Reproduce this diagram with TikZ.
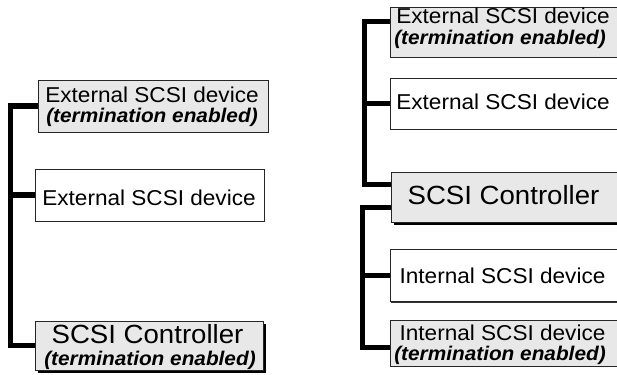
\documentclass[tikz,border=0pt]{standalone}
\usepackage{fontspec}
\setmainfont[FakeStretch=1.05]{Liberation Sans}
\usetikzlibrary{shadows}
\definecolor{boxgrey}{RGB}{232,232,232}
\begin{document}
\begin{tikzpicture}[x=1pt,y=-1pt,
  box/.style={draw=black!85, line width=0.9pt, inner sep=0pt, rectangle},
  greybox/.style={box, fill=boxgrey},
  whitebox/.style={box, fill=white},
  smallshadow/.style={general shadow={fill=black!80, shadow xshift=1.3pt, shadow yshift=-1.3pt}},
  bigshadow/.style={general shadow={fill=black, shadow xshift=3pt, shadow yshift=-3pt}},
  reg/.style={font=\fontsize{21.5}{22}\selectfont, inner sep=0pt, anchor=base},
  emph/.style={font=\fontsize{19.8}{21}\selectfont\bfseries\itshape, inner sep=0pt, anchor=base},
  ctrl/.style={font=\fontsize{26.3}{28}\selectfont, inner sep=0pt, anchor=base},
  bus/.style={line width=5.5pt, line join=miter}]

\useasboundingbox (0,0) rectangle (617,374);
\clip (0,0) rectangle (617,374);

% left chain
\node[greybox, smallshadow, minimum width=230pt, minimum height=52pt] (L1) at (153,106) {};
\node[whitebox, smallshadow, minimum width=229pt, minimum height=52pt] (L2) at (149.5,195) {};
\node[greybox, bigshadow, minimum width=228pt, minimum height=49pt] (LC) at (149,345.5) {};

\node[reg]  (L1a) at (152,102.7) {External SCSI device};
\node[emph] (L1b) at (152,122.7) {(termination enabled)};
\node[reg]  (L2a) at (149,205) {External SCSI device};
\node[ctrl] (LCa) at (147.5,343.3) {SCSI Controller};
\node[emph] (LCb) at (150,365) {(termination enabled)};

\coordinate (busL) at (10.5,0);
\draw[bus] (L1.west) -| (busL |- L2.west) |- (LC.west);
\draw[bus] (L2.west) -- (busL |- L2.west);

% right chain (boxes run past the right edge)
\node[greybox, smallshadow, minimum width=240pt, minimum height=50pt] (RA) at (510,32) {};
\node[whitebox, smallshadow, minimum width=240pt, minimum height=51pt] (RB) at (510,103.5) {};
\node[greybox, bigshadow, minimum width=240pt, minimum height=50pt] (RC) at (511,197) {};
\node[whitebox, smallshadow, minimum width=240pt, minimum height=52pt] (RD) at (510,275.5) {};
\node[greybox, smallshadow, minimum width=240pt, minimum height=46pt] (RE) at (510,343) {};

\node[reg]  (RAa) at (503,23.3) {External SCSI device};
\node[emph] (RAb) at (500,44.3) {(termination enabled)};
\node[reg]  (RBa) at (503,110) {External SCSI device};
\node[ctrl] (RCa) at (503.5,204) {SCSI Controller};
\node[reg]  (RDa) at (502.5,283.3) {Internal SCSI device};
\node[reg]  (REa) at (502.5,340) {Internal SCSI device};
\node[emph] (REb) at (500,360) {(termination enabled)};

\coordinate (busRU) at (364.5,0);
\coordinate (busRL) at (362.5,0);
\coordinate (raIn) at ([yshift=10.5pt]RA.west);
\coordinate (rcUp) at ([yshift=12.5pt]RC.west);
\coordinate (rcDn) at ([yshift=-10.5pt]RC.west);
\coordinate (reIn) at ([yshift=-4.5pt]RE.west);
\draw[bus] (raIn) -| (busRU |- RB.west) |- (rcUp);
\draw[bus] (RB.west) -- (busRU |- RB.west);
\draw[bus] (rcDn) -| (busRL |- RD.west) |- (reIn);
\draw[bus] (RD.west) -- (busRL |- RD.west);
\end{tikzpicture}
\end{document}
